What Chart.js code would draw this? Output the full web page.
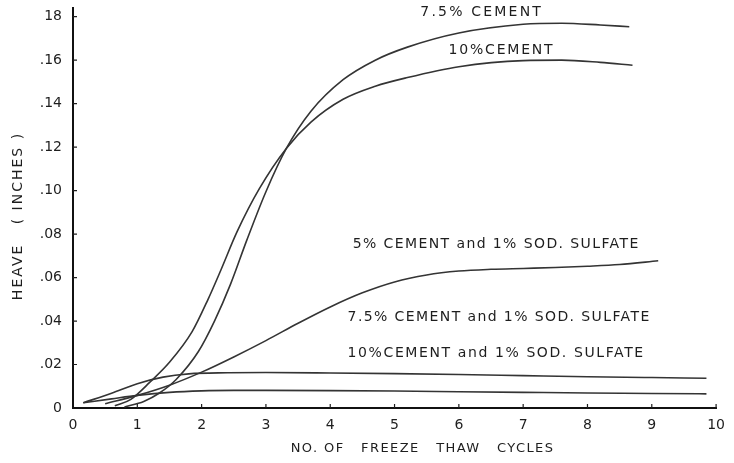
<!DOCTYPE html>
<html>
<head>
<meta charset="utf-8">
<script src="https://cdn.jsdelivr.net/npm/chart.js@4"></script>
<style>
  html, body { margin: 0; padding: 0; background: #fff; }
  #wrap { width: 734px; height: 463px; }
</style>
</head>
<body>
<div id="wrap"><canvas id="c" width="734" height="463"></canvas></div>
<script>
// Axis ticks
const cycleTicks = [0, 1, 2, 3, 4, 5, 6, 7, 8, 9, 10];
const heaveTicks = [0, 0.02, 0.04, 0.06, 0.08, 0.10, 0.12, 0.14, 0.16, 0.18];
const heaveTickLabels = ['0', '.02', '.04', '.06', '.08', '.10', '.12', '.14', '.16', '18'];

// 7.5% cement
const cem75Cycles = [0.8, 1.1, 1.35, 1.6, 1.95, 2.2, 2.45, 2.7, 3.0, 3.32, 3.7, 4.2, 4.7, 5.2, 6.0, 7.0, 7.6, 8.2, 8.65];
const cem75Heave  = [0.0005, 0.003, 0.007, 0.013, 0.026, 0.040, 0.057, 0.077, 0.0995, 0.1195, 0.1365, 0.151, 0.160, 0.166, 0.1725, 0.1765, 0.177, 0.1762, 0.1754];

// 10% cement
const cem10Cycles = [0.65, 0.9, 1.2, 1.5, 1.85, 2.1, 2.3, 2.55, 2.9, 3.32, 3.7, 4.2, 4.7, 5.2, 6.0, 7.0, 7.6, 8.2, 8.7];
const cem10Heave  = [0.001, 0.004, 0.012, 0.021, 0.035, 0.050, 0.0635, 0.081, 0.101, 0.1195, 0.1315, 0.142, 0.148, 0.152, 0.157, 0.1598, 0.160, 0.159, 0.1577];

// 5% cement and 1% sodium sulfate
const cem5SsCycles = [0.5, 1.0, 1.5, 2.0, 2.5, 3.0, 3.5, 4.0, 4.5, 5.0, 5.5, 6.0, 6.5, 7.0, 7.5, 8.0, 8.5, 9.1];
const cem5SsHeave  = [0.002, 0.0058, 0.0105, 0.0165, 0.0235, 0.031, 0.039, 0.0465, 0.053, 0.058, 0.0612, 0.063, 0.0638, 0.0642, 0.0646, 0.0652, 0.066, 0.0677];

// 7.5% cement and 1% sodium sulfate
const cem75SsCycles = [0.16, 0.6, 1.0, 1.4, 1.8, 2.4, 3.0, 4.0, 5.0, 6.0, 7.0, 8.0, 9.0, 9.85];
const cem75SsHeave  = [0.0024, 0.0068, 0.0112, 0.0142, 0.0157, 0.0162, 0.0163, 0.0161, 0.0158, 0.0154, 0.0149, 0.0144, 0.014, 0.0137];

// 10% cement and 1% sodium sulfate
const cem10SsCycles = [0.16, 0.6, 1.0, 1.5, 2.0, 2.5, 3.0, 4.0, 5.0, 6.0, 7.0, 8.0, 9.0, 9.85];
const cem10SsHeave  = [0.0024, 0.0042, 0.0058, 0.0072, 0.0079, 0.0081, 0.0081, 0.008, 0.0078, 0.0075, 0.0072, 0.0069, 0.0067, 0.0065];

const curveNames = [
  '7.5% CEMENT',
  '10%CEMENT',
  '5% CEMENT and 1% SOD. SULFATE',
  '7.5% CEMENT and 1% SOD. SULFATE',
  '10%CEMENT and 1% SOD. SULFATE'
];

// Where each curve name is written (data coordinates of the text's left end) and its letter spacing
const nameAnchors = [
  { cycles: 5.40, heave: 0.1820, spacing: 2.2 },
  { cycles: 5.84, heave: 0.1646, spacing: 1.8 },
  { cycles: 4.35, heave: 0.0752, spacing: 1.4 },
  { cycles: 4.27, heave: 0.0415, spacing: 1.4 },
  { cycles: 4.27, heave: 0.0253, spacing: 1.6 }
];

const pairs = (xs, ys) => xs.map((x, i) => ({ x, y: ys[i] }));

const INK = '#1e1e1e';
const LINE = '#343434';
const FONT = '"DejaVu Sans", "Liberation Sans", sans-serif';

const lineSet = (label, data) => ({
  label, data,
  borderColor: LINE,
  borderWidth: 1.6,
  pointRadius: 0,
  fill: false,
  cubicInterpolationMode: 'monotone'
});

function spacedText(ctx, text, x, y, spacing) {
  if ('letterSpacing' in ctx) {
    ctx.letterSpacing = spacing + 'px';
    ctx.fillText(text, x, y);
    ctx.letterSpacing = '0px';
    return;
  }
  let cx = x;
  const align = ctx.textAlign;
  let total = 0;
  for (const ch of text) total += ctx.measureText(ch).width + spacing;
  total -= spacing;
  if (align === 'center') cx = x - total / 2;
  ctx.textAlign = 'left';
  for (const ch of text) { ctx.fillText(ch, cx, y); cx += ctx.measureText(ch).width + spacing; }
  ctx.textAlign = align;
}

const decorations = {
  id: 'decorations',
  afterDraw(chart) {
    const { ctx, chartArea, scales } = chart;
    const xs = scales.x, ys = scales.y;
    ctx.save();
    // small tick marks pointing into the plot
    ctx.strokeStyle = INK;
    ctx.lineWidth = 1.2;
    ctx.beginPath();
    cycleTicks.forEach(v => {
      if (v === 0) return;
      const px = xs.getPixelForValue(v);
      ctx.moveTo(px, chartArea.bottom);
      ctx.lineTo(px, chartArea.bottom - 4);
    });
    heaveTicks.forEach(v => {
      if (v === 0) return;
      const py = ys.getPixelForValue(v);
      ctx.moveTo(chartArea.left, py);
      ctx.lineTo(chartArea.left + 4, py);
    });
    ctx.stroke();

    // curve names
    ctx.fillStyle = INK;
    ctx.font = '14px ' + FONT;
    ctx.textAlign = 'left';
    ctx.textBaseline = 'middle';
    curveNames.forEach((name, i) => {
      const a = nameAnchors[i];
      spacedText(ctx, name, xs.getPixelForValue(a.cycles), ys.getPixelForValue(a.heave), a.spacing);
    });

    // axis titles
    ctx.font = '13px ' + FONT;
    ctx.textAlign = 'center';
    ctx.textBaseline = 'middle';
    spacedText(ctx, 'NO. OF   FREEZE   THAW   CYCLES', (chartArea.left + chartArea.right) / 2 + 28, 449, 1.4);
    ctx.font = '14px ' + FONT;
    ctx.translate(18, (chartArea.top + chartArea.bottom) / 2 + 8);
    ctx.rotate(-Math.PI / 2);
    spacedText(ctx, 'HEAVE   ( INCHES )', 0, 0, 2.0);
    ctx.restore();
  }
};

new Chart(document.getElementById('c'), {
  type: 'line',
  data: {
    datasets: [
      lineSet(curveNames[0], pairs(cem75Cycles, cem75Heave)),
      lineSet(curveNames[1], pairs(cem10Cycles, cem10Heave)),
      lineSet(curveNames[2], pairs(cem5SsCycles, cem5SsHeave)),
      lineSet(curveNames[3], pairs(cem75SsCycles, cem75SsHeave)),
      lineSet(curveNames[4], pairs(cem10SsCycles, cem10SsHeave))
    ]
  },
  options: {
    responsive: false,
    animation: false,
    devicePixelRatio: 1,
    layout: { padding: { top: 8, right: 17, left: 0, bottom: 0 } },
    plugins: { legend: { display: false }, tooltip: { enabled: false } },
    scales: {
      x: {
        type: 'linear',
        min: 0, max: 10,
        grid: { display: false, drawTicks: false },
        border: { display: true, color: '#111', width: 2 },
        afterBuildTicks: s => { s.ticks = cycleTicks.map(v => ({ value: v })); },
        afterFit: s => { s.height = 55; },
        ticks: {
          padding: 9,
          color: INK,
          font: { family: FONT, size: 14 },
          callback: v => String(v)
        }
      },
      y: {
        type: 'linear',
        min: 0, max: 0.184,
        grid: { display: false, drawTicks: false },
        border: { display: true, color: '#111', width: 2 },
        afterBuildTicks: s => { s.ticks = heaveTicks.map(v => ({ value: v })); },
        afterFit: s => { s.width = 73; s.paddingTop = 0; s.paddingBottom = 0; },
        ticks: {
          padding: 11,
          color: INK,
          font: { family: FONT, size: 14 },
          callback: (v, i) => heaveTickLabels[i]
        }
      }
    }
  },
  plugins: [decorations]
});
</script>
</body>
</html>
